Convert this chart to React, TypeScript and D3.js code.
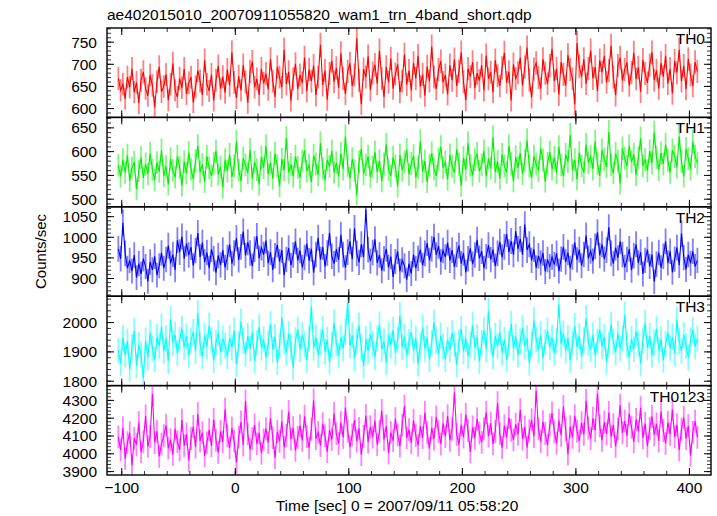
import React from "react";
import * as d3 from "d3";

const TITLE = "ae402015010_20070911055820_wam1_trn_4band_short.qdp";
const X_LABEL = "Time [sec] 0 = 2007/09/11 05:58:20";
const Y_LABEL = "Counts/sec";
const T_START = -103;
const T_STEP = 2;
const X_DOMAIN = [-113, 419];
const X_TICKS = [-100, 0, 100, 200, 300, 400];
const X_MINOR_STEP = 20;
const BANDS = ["TH0", "TH1", "TH2", "TH3", "TH0123"];
const COLORS = ["#ff0000", "#00f000", "#0000ff", "#00ffff", "#ff00ff"];

const th0 = [
  668, 641, 655, 622, 671, 648, 690, 637, 659, 612, 664, 683, 645, 629, 676, 652,
  603, 661, 694, 638, 650, 677, 619, 655, 702, 641, 626, 668, 647, 690, 633, 658,
  671, 614, 649, 686, 662, 631, 709, 655, 640, 677, 618, 664, 696, 645, 672, 636,
  688, 652, 727, 659, 624, 673, 641, 698, 660, 613, 684, 706, 648, 667, 631, 690,
  657, 679, 643, 712, 662, 626, 694, 671, 648, 733, 655, 683, 618, 667, 701, 644,
  676, 658, 715, 639, 688, 662, 697, 630, 671, 744, 653, 686, 620, 679, 708, 660,
  692, 647, 725, 668, 633, 684, 702, 651, 676, 758, 664, 610, 689, 671, 718, 642,
  680, 699, 656, 731, 668, 626, 694, 659, 713, 645, 678, 700, 637, 662, 722, 654,
  686, 641, 703, 668, 719, 650, 677, 629, 695, 662, 740, 671, 644, 688, 707, 659,
  676, 632, 698, 664, 711, 651, 684, 727, 660, 619, 690, 672, 705, 646, 680, 663,
  698, 641, 720, 667, 682, 637, 709, 674, 651, 692, 726, 659, 683, 618, 700, 668,
  681, 715, 652, 694, 738, 664, 625, 689, 703, 670, 645, 712, 680, 656, 697, 735,
  662, 690, 631, 705, 677, 652, 721, 688, 667, 610, 748, 695, 672, 712, 656, 690,
  731, 668, 694, 640, 709, 682, 719, 659, 686, 742, 671, 630, 697, 715, 663, 688,
  704, 652, 681, 726, 667, 693, 638, 710, 679, 658, 698, 727, 664, 686, 645, 703,
  672, 719, 656, 690, 634, 708, 681, 733, 662, 697, 644, 712, 676, 651, 705, 684,
];

const th1 = [
  571, 548, 583, 556, 592, 539, 566, 578, 521, 560, 587, 545, 574, 553, 596, 562,
  540, 577, 558, 603, 549, 569, 531, 585, 561, 546, 590, 567, 528, 579, 555, 598,
  563, 542, 581, 612, 557, 573, 536, 590, 566, 549, 575, 601, 552, 568, 524, 583,
  559, 594, 547, 570, 621, 561, 538, 586, 572, 555, 604, 543, 578, 562, 531, 589,
  566, 612, 552, 577, 543, 596, 570, 527, 584, 561, 629, 556, 573, 548, 590, 567,
  545, 580, 603, 559, 571, 536, 592, 574, 551, 618, 565, 540, 583, 569, 601, 556,
  577, 548, 596, 563, 632, 571, 544, 585, 560, 509, 579, 606, 553, 572, 590, 547,
  568, 599, 557, 581, 538, 574, 615, 562, 549, 588, 570, 527, 593, 561, 578, 604,
  552, 575, 591, 546, 567, 622, 558, 580, 536, 571, 597, 563, 549, 584, 610, 566,
  578, 541, 593, 569, 556, 605, 574, 528, 587, 562, 618, 571, 550, 583, 596, 559,
  572, 601, 548, 586, 565, 630, 557, 579, 543, 594, 570, 556, 612, 575, 538, 589,
  566, 597, 553, 581, 624, 569, 545, 590, 574, 560, 607, 582, 537, 576, 599, 563,
  588, 555, 610, 572, 548, 594, 579, 635, 561, 583, 542, 598, 570, 556, 615, 577,
  590, 563, 621, 575, 549, 603, 584, 568, 641, 572, 555, 596, 580, 533, 607, 586,
  569, 612, 578, 594, 551, 587, 628, 570, 583, 560, 601, 576, 640, 588, 562, 597,
  574, 615, 582, 556, 603, 590, 567, 632, 579, 548, 606, 585, 563, 621, 590, 576,
];

const th2 = [
  972, 948, 1035, 961, 925, 944, 918, 957, 902, 936, 911, 948, 929, 893, 940, 921,
  954, 908, 931, 962, 925, 946, 980, 937, 958, 921, 993, 964, 1002, 948, 985, 957,
  976, 931, 968, 1010, 952, 987, 940, 963, 925, 971, 948, 914, 956, 933, 969, 927,
  951, 983, 936, 962, 998, 945, 977, 1014, 956, 988, 962, 930, 971, 1003, 949, 975,
  958, 992, 937, 964, 921, 955, 982, 941, 969, 908, 946, 974, 932, 957, 990, 944,
  968, 927, 951, 985, 943, 972, 914, 958, 999, 946, 977, 929, 962, 1011, 954, 936,
  971, 945, 1006, 958, 926, 964, 990, 947, 1022, 961, 939, 983, 952, 1068, 970, 942,
  963, 995, 938, 957, 919, 948, 972, 927, 953, 904, 941, 966, 918, 945, 931, 897,
  936, 912, 958, 925, 949, 970, 932, 961, 986, 944, 972, 1001, 957, 979, 940, 968,
  952, 987, 944, 969, 928, 958, 980, 936, 962, 915, 948, 973, 935, 957, 994, 949,
  966, 925, 953, 981, 946, 970, 930, 961, 989, 952, 977, 1008, 964, 991, 958, 1015,
  972, 996, 958, 1031, 969, 983, 944, 971, 926, 955, 938, 962, 917, 946, 929, 952,
  934, 961, 918, 947, 977, 940, 963, 925, 952, 988, 945, 970, 931, 958, 1004, 949,
  967, 942, 978, 1012, 956, 983, 947, 969, 1024, 961, 936, 975, 950, 990, 958, 927,
  946, 972, 920, 955, 983, 938, 964, 911, 944, 970, 929, 958, 892, 935, 963, 926,
  954, 990, 938, 966, 915, 947, 975, 932, 1009, 951, 922, 958, 937, 966, 929, 944,
];

const th3 = [
  1905, 1862, 1948, 1889, 1936, 1840, 1917, 1971, 1853, 1924, 1892, 1809, 1938, 1881, 1966, 1912,
  1874, 1951, 1920, 1986, 1903, 1947, 1868, 2012, 1931, 1958, 1895, 1942, 1979, 1916, 1953, 1887,
  1939, 1968, 1902, 2031, 1927, 1885, 1956, 1918, 1990, 1941, 1870, 1932, 1964, 1899, 1945, 1921,
  1883, 1947, 1915, 1972, 1858, 1926, 2003, 1938, 1892, 1954, 1911, 1967, 1869, 1930, 1985, 1914,
  1943, 1881, 1929, 1995, 1907, 1952, 1864, 1921, 2018, 1935, 1897, 1961, 1918, 1846, 1940, 1976,
  1908, 1957, 1926, 1873, 1945, 2055, 1914, 1950, 1889, 1933, 1978, 1901, 1942, 1866, 1925, 1999,
  1930, 1887, 1949, 1912, 1968, 2070, 1921, 1957, 1878, 1936, 1990, 1915, 1851, 1944, 1903, 1960,
  1927, 1882, 1946, 1993, 1910, 1935, 1864, 1958, 1921, 1975, 1898, 1940, 2024, 1916, 1952, 1888,
  1934, 1967, 1905, 1946, 1859, 1922, 1983, 1911, 1948, 1874, 1930, 2001, 1937, 1893, 1956, 1919,
  1875, 1942, 1908, 1964, 1927, 1856, 1933, 1979, 1902, 1945, 1886, 1926, 1991, 1914, 1950, 1868,
  1931, 1973, 1909, 2040, 1938, 1883, 1955, 1920, 1967, 1897, 1941, 1874, 1928, 1996, 1913, 1952,
  1890, 1936, 1981, 1918, 1947, 1862, 1925, 2008, 1942, 1906, 1960, 1879, 1933, 1972, 1915, 1949,
  1896, 1938, 2062, 1927, 1963, 1905, 1947, 1872, 1929, 1988, 1916, 1954, 1883, 1940, 2015, 1931,
  1908, 1957, 1889, 1936, 1975, 1919, 1951, 1866, 1924, 1993, 1935, 1898, 1962, 1912, 1946, 2026,
  1925, 1881, 1944, 1909, 1970, 1928, 1861, 1937, 1998, 1914, 1955, 1890, 1932, 1979, 1906, 1943,
  1872, 1927, 1966, 1913, 1951, 1894, 2010, 1936, 1903, 1958, 1921, 1880, 1940, 1975, 1918, 1946,
];

const th0123 = [
  4095, 4021, 4146, 3972, 4063, 4118, 3934, 4087, 4052, 4176, 4010, 4069, 4212, 4041, 4098, 4335,
  4063, 4127, 3985, 4054, 4102, 4160, 4031, 4079, 3996, 4140, 4068, 4022, 4189, 4045, 4111, 3962,
  4086, 4153, 4037, 4224, 4072, 4119, 3988, 4061, 4135, 4044, 4192, 4076, 4008, 4126, 4067, 4250,
  4101, 4033, 4145, 4070, 3951, 4093, 4178, 4049, 4296, 4112, 4024, 4085, 4162, 4056, 4117, 4003,
  4078, 4141, 4062, 4199, 4091, 3978, 4125, 4070, 4183, 4036, 4104, 4237, 4082, 4146, 4019, 4093,
  4158, 4074, 4211, 4097, 4033, 4138, 4301, 4085, 4120, 4046, 4169, 4102, 4012, 4134, 4080, 4226,
  4113, 4057, 4175, 4092, 4260, 4128, 4039, 4106, 4190, 4071, 4143, 3995, 4098, 4215, 4066, 4152,
  4094, 4186, 4051, 4127, 4242, 4080, 4156, 4003, 4119, 4074, 4198, 4105, 4043, 4160, 4268, 4089,
  4135, 4061, 4188, 4102, 4047, 4155, 4091, 4232, 4118, 4029, 4146, 4083, 4207, 4124, 4054, 4171,
  4097, 4213, 4076, 4139, 4345, 4108, 4052, 4163, 4094, 4221, 4130, 4011, 4150, 4088, 4196, 4117,
  4064, 4141, 4233, 4099, 4172, 4056, 4125, 4286, 4113, 4035, 4158, 4091, 4204, 4132, 4078, 4166,
  4109, 4247, 4083, 4151, 4036, 4128, 4191, 4097, 4356, 4141, 4069, 4180, 4115, 4048, 4162, 4229,
  4123, 4060, 4188, 4104, 4265, 4137, 3998, 4152, 4093, 4214, 4127, 4071, 4175, 4109, 4298, 4145,
  4086, 4199, 4131, 4340, 4157, 4075, 4178, 4112, 4231, 4096, 4163, 4041, 4140, 4272, 4118, 4184,
  4102, 4225, 4149, 4067, 4193, 4126, 4258, 4089, 4170, 4043, 4144, 4211, 4107, 4168, 4072, 4236,
  4131, 4058, 4176, 4110, 4249, 4095, 4163, 4021, 4138, 4204, 4085, 4157, 3990, 4120, 4183, 4092,
];

const SERIES = [th0, th1, th2, th3, th0123];
const Y_DOMAINS = [
  [580, 782],
  [484, 672],
  [857, 1074],
  [1785, 2090],
  [3881, 4383],
];
const Y_TICKS = [
  [600, 650, 700, 750],
  [500, 550, 600, 650],
  [900, 950, 1000, 1050],
  [1800, 1900, 2000],
  [3900, 4000, 4100, 4200, 4300],
];
const Y_MINOR_STEP = [10, 10, 10, 20, 20];

const W = 717;
const H = 516;
const LEFT = 107;
const RIGHT = 711;
const TOP = 28;
const BOTTOM = 475;
const FONT = "'Liberation Sans', Arial, Helvetica, sans-serif";
const MAJ = 7;
const MIN = 4;

function rangeStep(a: number, b: number, s: number) {
  const out: number[] = [];
  const start = Math.ceil(a / s) * s;
  for (let v = start; v <= b + 1e-9; v += s) out.push(v);
  return out;
}

export default function App() {
  const x = d3.scaleLinear().domain(X_DOMAIN).range([LEFT, RIGHT]);
  const ph = (BOTTOM - TOP) / SERIES.length;
  const xMinor = rangeStep(X_DOMAIN[0], X_DOMAIN[1], X_MINOR_STEP);

  return (
    <svg
      width={W}
      height={H}
      style={{ position: "absolute", left: 0, top: 0, background: "#fff" }}
      fontFamily={FONT}
    >
      <rect x={0} y={0} width={W} height={H} fill="#fff" />
      <defs>
        {SERIES.map((_, i) => (
          <clipPath id={`clip${i}`} key={i}>
            <rect x={LEFT} y={TOP + i * ph} width={RIGHT - LEFT} height={ph} />
          </clipPath>
        ))}
      </defs>
      {SERIES.map((vals, i) => {
        const y0 = TOP + i * ph;
        const y1 = y0 + ph;
        const y = d3.scaleLinear().domain(Y_DOMAINS[i]).range([y1, y0]);
        const pts = vals.map((v, k) => ({ t: T_START + k * T_STEP, v, e: Math.sqrt(v) }));
        const errPath = pts
          .map((p) => `M${x(p.t).toFixed(2)},${y(p.v - p.e).toFixed(2)}V${y(p.v + p.e).toFixed(2)}`)
          .join("");
        const line = d3
          .line<{ t: number; v: number }>()
          .x((p) => x(p.t))
          .y((p) => y(p.v));
        const yMinor = rangeStep(Y_DOMAINS[i][0], Y_DOMAINS[i][1], Y_MINOR_STEP[i]);
        return (
          <g key={i}>
            <g clipPath={`url(#clip${i})`}>
              <path d={errPath} stroke={COLORS[i]} strokeOpacity={0.5} strokeWidth={1.8} fill="none" />
              <path d={line(pts) || ""} stroke={COLORS[i]} strokeWidth={1.1} fill="none" />
            </g>
            {yMinor.map((v) => (
              <g key={`ym${v}`} stroke="#000" strokeWidth={0.8}>
                <line x1={LEFT} x2={LEFT + MIN} y1={y(v)} y2={y(v)} />
                <line x1={RIGHT} x2={RIGHT - MIN} y1={y(v)} y2={y(v)} />
              </g>
            ))}
            {Y_TICKS[i].map((v) => (
              <g key={`yM${v}`}>
                <line x1={LEFT} x2={LEFT + MAJ} y1={y(v)} y2={y(v)} stroke="#000" strokeWidth={1} />
                <line x1={RIGHT} x2={RIGHT - MAJ} y1={y(v)} y2={y(v)} stroke="#000" strokeWidth={1} />
                <text x={97} y={y(v) + 5.5} textAnchor="end" fontSize={15.5} fill="#000">
                  {v}
                </text>
              </g>
            ))}
            {xMinor.map((t) => (
              <g key={`xm${t}`} stroke="#000" strokeWidth={0.8}>
                <line x1={x(t)} x2={x(t)} y1={y0} y2={y0 + MIN} />
                <line x1={x(t)} x2={x(t)} y1={y1} y2={y1 - MIN} />
              </g>
            ))}
            {X_TICKS.map((t) => (
              <g key={`xM${t}`} stroke="#000" strokeWidth={1}>
                <line x1={x(t)} x2={x(t)} y1={y0} y2={y0 + MAJ} />
                <line x1={x(t)} x2={x(t)} y1={y1} y2={y1 - MAJ} />
              </g>
            ))}
            <rect x={LEFT} y={y0} width={RIGHT - LEFT} height={ph} fill="none" stroke="#000" strokeWidth={1.4} />
            <text x={705} y={y0 + 16} textAnchor="end" fontSize={15.5} fill="#000">
              {BANDS[i]}
            </text>
          </g>
        );
      })}
      {X_TICKS.map((t) => (
        <text key={`xl${t}`} x={x(t)} y={493} textAnchor="middle" fontSize={15.5} fill="#000">
          {t < 0 ? `\u2212${-t}` : t}
        </text>
      ))}
      <text x={397} y={511} textAnchor="middle" fontSize={15.5} fill="#000">
        {X_LABEL}
      </text>
      <text
        transform={`translate(46,${(TOP + BOTTOM) / 2}) rotate(-90)`}
        textAnchor="middle"
        fontSize={15}
        fill="#000"
      >
        {Y_LABEL}
      </text>
      <text x={LEFT} y={20} fontSize={15.5} fill="#000">
        {TITLE}
      </text>
    </svg>
  );
}
